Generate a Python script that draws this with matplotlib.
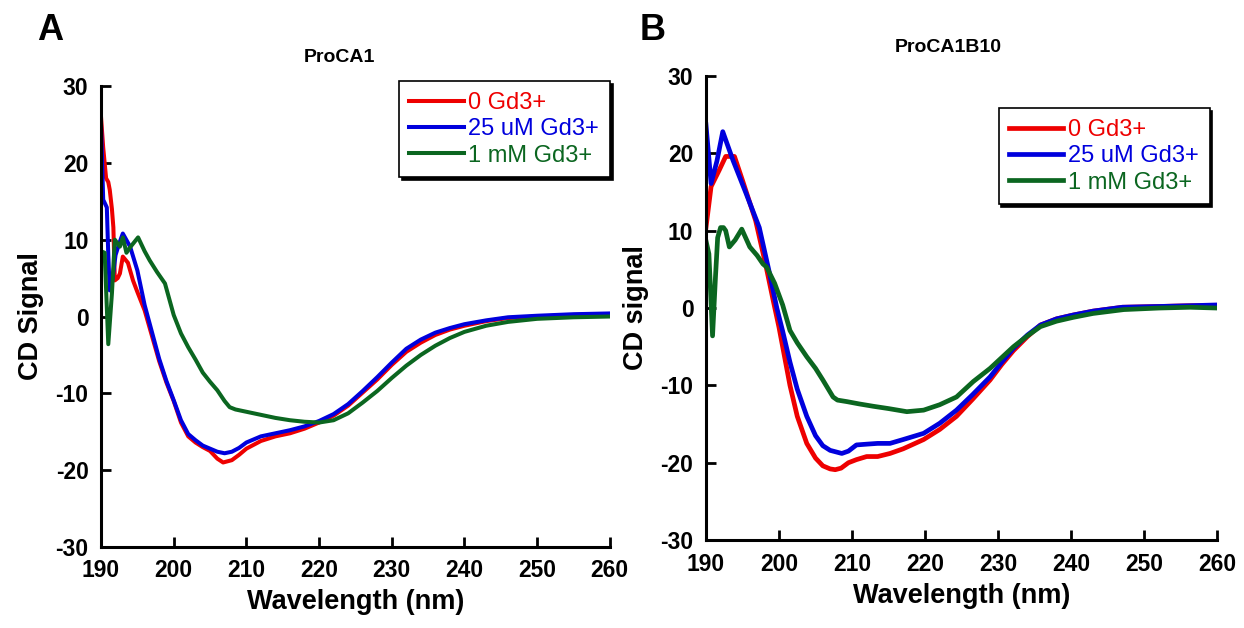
import matplotlib
matplotlib.use("Agg")
import matplotlib.pyplot as plt

plt.rcParams['font.family'] = ['Liberation Sans', 'DejaVu Sans']
plt.rcParams['axes.unicode_minus'] = False

# ---- panel A: ProCA1 ----
a_red_wl = [190, 190.3, 190.7, 191, 191.2, 191.5, 191.7, 191.9, 192.3, 192.6, 193, 193.7, 194.4,
            195, 196, 197, 198, 199, 200, 201, 202, 203, 204, 205, 206, 206.8, 208, 209, 210, 212,
            214, 216, 218, 220, 222, 224, 226, 228, 230, 232, 234, 236, 238, 240, 243, 246, 250, 255, 260]
a_red = [26, 22, 18, 17.5, 16.5, 14, 11.6, 4.7, 5, 5.6, 7.8, 7, 4.7,
         3.2, 0.8, -2.5, -5.8, -8.6, -11, -13.8, -15.6, -16.4, -17, -17.5, -18.5, -19, -18.7, -18, -17.2, -16.2,
         -15.6, -15.2, -14.6, -13.8, -12.9, -11.6, -9.9, -8.2, -6.3, -4.6, -3.4, -2.4, -1.7, -1.2, -0.6, -0.2, 0, 0.2, 0.3]

a_blue_wl = [190, 190.3, 190.8, 191, 191.2, 191.6, 192, 192.5, 193, 194, 195, 196, 197, 198, 199, 200,
             201, 202, 203, 204, 205, 206, 207, 208, 209, 210, 212, 214, 216, 218, 220, 222, 224, 226,
             228, 230, 232, 234, 236, 238, 240, 243, 246, 250, 255, 260]
a_blue = [25, 15.2, 14.2, 8, 3.4, 5, 8, 9.5, 10.8, 9.1, 6, 1.5, -2, -5.5, -8.4, -10.9,
          -13.5, -15.3, -16.1, -16.8, -17.2, -17.6, -17.8, -17.6, -17.1, -16.4, -15.6, -15.2, -14.8, -14.3, -13.6, -12.7, -11.4, -9.7,
          -7.9, -6, -4.2, -3, -2.1, -1.5, -1, -0.5, -0.1, 0.1, 0.3, 0.4]

a_green_wl = [190, 190.5, 191, 191.5, 191.9, 192.6, 193, 193.5, 194, 195.1, 196, 196.7, 197.7, 198.8, 200,
              201, 202, 203, 204, 205, 206, 207, 207.7, 208.5, 210, 212, 214, 216, 218, 220, 222, 224,
              226, 228, 230, 232, 234, 236, 238, 240, 243, 246, 250, 255, 260]
a_green = [8.5, 8.3, -3.6, 3, 10, 9.1, 10.3, 8.3, 9, 10.3, 8.5, 7.3, 5.8, 4.3, 0.2,
           -2.2, -4, -5.6, -7.3, -8.5, -9.6, -11, -11.8, -12.1, -12.4, -12.8, -13.2, -13.5, -13.7, -13.8, -13.5, -12.6,
           -11.2, -9.7, -8, -6.4, -5, -3.8, -2.8, -2, -1.2, -0.7, -0.3, -0.1, 0]

# ---- panel B: ProCA1B10 ----
b_red_wl = [190, 190.7, 191.8, 192.7, 193.9, 195, 196.8, 198.2, 199.2, 200, 200.8, 201.5, 202.5, 203.8, 205,
            206, 207, 207.7, 208.5, 209.5, 210.6, 212, 213.5, 215.2, 217, 219.8, 222, 224.3, 226.5, 228.9,
            230.5, 232.1, 234, 235.8, 238, 240.3, 243, 247, 252, 256.3, 260]
b_red = [10.4, 15.7, 17.8, 19.6, 19.6, 16.5, 11.3, 5.5, 1, -2.5, -6.5, -10, -14, -17.5, -19.4,
         -20.4, -20.8, -20.9, -20.7, -20, -19.6, -19.2, -19.2, -18.8, -18.2, -17, -15.7, -14, -11.8, -9.3,
         -7.3, -5.5, -3.7, -2.2, -1.4, -0.9, -0.4, 0.1, 0.2, 0.3, 0.3]

b_blue_wl = [190, 190.7, 191.5, 192.3, 193.7, 195.5, 197.3, 198.7, 199.7, 200.5, 201.5, 202.5, 203.8, 205,
             206, 207, 208.6, 209.5, 210.6, 212, 213.5, 215.2, 217, 219.8, 222, 224.3, 226.5, 228.9, 230.5,
             232.1, 234, 235.8, 238, 240.3, 243, 247, 252, 256.3, 260]
b_blue = [23.7, 16.1, 19, 22.8, 19.1, 14.8, 10.4, 4.5, 0, -3, -7, -10.5, -14, -16.5,
          -17.8, -18.4, -18.8, -18.5, -17.7, -17.6, -17.5, -17.5, -17, -16.2, -14.9, -13.2, -11.2, -8.9, -7,
          -5.2, -3.5, -2.2, -1.4, -0.9, -0.4, 0.1, 0.2, 0.3, 0.4]

b_green_wl = [190, 190.4, 190.9, 191.3, 191.6, 192, 192.4, 192.7, 193.2, 194, 194.9, 196, 197, 197.8, 198.3,
              199.4, 200.5, 201.5, 202.5, 203.8, 205, 206, 207.4, 208, 209.3, 211, 212.9, 215, 217.5, 219.8,
              222, 224.3, 226.6, 228.9, 230.5, 232.1, 234, 235.8, 238, 240.3, 243, 247.2, 252, 256.3, 260]
b_green = [8.7, 7, -3.6, 4, 9.1, 10.4, 10.4, 10, 7.9, 8.8, 10.2, 7.9, 6.8, 5.7, 5.3,
           3.2, 0.4, -2.9, -4.5, -6.3, -7.8, -9.3, -11.5, -11.9, -12.1, -12.4, -12.7, -13, -13.4, -13.2,
           -12.5, -11.5, -9.5, -7.8, -6.4, -5, -3.6, -2.4, -1.7, -1.2, -0.7, -0.2, 0, 0.1, 0]

series_labels = ['0 Gd3+', '25 uM Gd3+', '1 mM Gd3+']
series_colors = ['#ee0000', '#0000dd', '#0b6620']
x_ticks = [190, 200, 210, 220, 230, 240, 250, 260]
y_ticks = [-30, -20, -10, 0, 10, 20, 30]

fig = plt.figure(figsize=(12.44, 6.28), dpi=100)
axA = fig.add_axes([0.0812, 0.129, 0.409, 0.734])
axB = fig.add_axes([0.5675, 0.140, 0.411, 0.739])

panels = [
    (axA, [(a_red_wl, a_red), (a_blue_wl, a_blue), (a_green_wl, a_green)], 'ProCA1', 'CD Signal', 2.9,
     (1.0, 1.01), (0.273, 0.909)),
    (axB, [(b_red_wl, b_red), (b_blue_wl, b_blue), (b_green_wl, b_green)], 'ProCA1B10', 'CD signal', 3.4,
     (0.985, 0.93), (0.762, 0.925)),
]

for ax, data, title, ylab, lw, leg_pos, title_pos in panels:
    for (wl, v), lab, col in zip(data, series_labels, series_colors):
        ax.plot(wl, v, color=col, lw=lw, label=lab, solid_joinstyle='round')
    ax.set_xlim(190, 260)
    ax.set_ylim(-30, 30)
    ax.set_xticks(x_ticks)
    ax.set_yticks(y_ticks)
    for s in ['top', 'right']:
        ax.spines[s].set_visible(False)
    for s in ['left', 'bottom']:
        ax.spines[s].set_linewidth(2.2)
    ax.tick_params(direction='in', length=7, width=2, labelsize=16.5)
    ax.tick_params(axis='x', pad=9)
    ax.tick_params(axis='y', pad=9)
    for t in ax.get_xticklabels() + ax.get_yticklabels():
        t.set_fontweight('bold')
    ax.set_xlabel('Wavelength (nm)', fontsize=19.5, fontweight='bold', labelpad=5)
    ax.set_ylabel(ylab, fontsize=19.5, fontweight='bold', labelpad=8)
    fig.text(title_pos[0], title_pos[1], title, fontsize=14, fontweight='bold',
             ha='center', va='center')
    leg = ax.legend(loc='upper right', bbox_to_anchor=leg_pos, fontsize=17, frameon=True,
                    fancybox=False, shadow={'color': 'black', 'alpha': 1}, edgecolor='black',
                    handlelength=2.3, handletextpad=0.2, labelspacing=0.18, borderpad=0.45,
                    borderaxespad=0)
    leg.get_frame().set_linewidth(1.2)
    for txt, col in zip(leg.get_texts(), series_colors):
        txt.set_color(col)

fig.text(0.030, 0.952, 'A', fontsize=26, fontweight='bold', va='center')
fig.text(0.514, 0.952, 'B', fontsize=26, fontweight='bold', va='center')

fig.savefig('out.png', dpi=100)
